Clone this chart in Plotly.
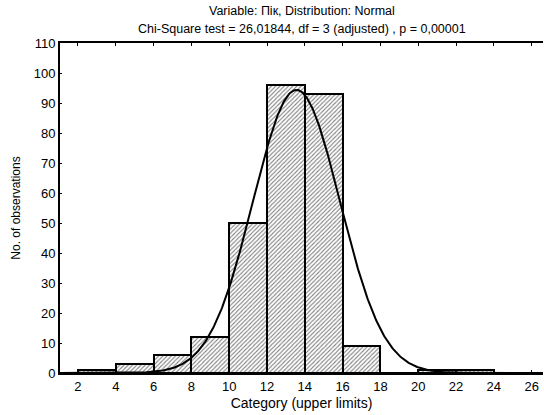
import numpy as np
import plotly.graph_objects as go

# Histogram data: bins (lower, upper) and counts
bin_lower = [2, 4, 6, 8, 10, 12, 14, 16, 18, 20, 22, 24]
bin_upper = [4, 6, 8, 10, 12, 14, 16, 18, 20, 22, 24, 26]
counts = [1, 3, 6, 12, 50, 96, 93, 9, 0, 1, 1, 0]

# Fitted normal distribution parameters
fit_mean = 13.56
fit_sd = 2.30
bin_width = 2
n_total = sum(counts)

x_ticks = [2, 4, 6, 8, 10, 12, 14, 16, 18, 20, 22, 24, 26]
y_ticks = [0, 10, 20, 30, 40, 50, 60, 70, 80, 90, 100, 110]

title_line1 = "Variable: Пік, Distribution: Normal"
title_line2 = "Chi-Square test = 26,01844, df = 3 (adjusted) , p = 0,00001"

centers = [(a + b) / 2 for a, b in zip(bin_lower, bin_upper)]
widths = [b - a for a, b in zip(bin_lower, bin_upper)]

xc = np.linspace(1.05, 26.6, 600)
yc = n_total * bin_width / (fit_sd * np.sqrt(2 * np.pi)) * np.exp(-0.5 * ((xc - fit_mean) / fit_sd) ** 2)

fig = go.Figure()
fig.add_trace(go.Bar(
    x=centers, y=counts, width=widths,
    marker=dict(
        color="white",
        line=dict(color="black", width=2),
        pattern=dict(shape="/", fgcolor="black", bgcolor="white", size=3, solidity=0.35),
    ),
    showlegend=False,
))
fig.add_trace(go.Scatter(
    x=xc, y=yc, mode="lines",
    line=dict(color="black", width=2),
    showlegend=False,
))

font_family = "Liberation Sans, Arial, sans-serif"
fig.update_layout(
    width=544, height=415,
    margin=dict(l=60, r=1, t=43, b=42, autoexpand=False),
    plot_bgcolor="white", paper_bgcolor="white",
    font=dict(family=font_family, size=13, color="black"),
    bargap=0,
    xaxis=dict(
        range=[1.05, 26.6],
        tickvals=x_ticks, ticktext=[str(v) for v in x_ticks],
        showline=True, linecolor="black", linewidth=2,
        mirror="allticks",
        ticks="inside", ticklen=3, tickcolor="black", tickwidth=1,
        showgrid=False, zeroline=False,
        title=dict(text="Category (upper limits)", font=dict(size=14), standoff=6),
        tickfont=dict(size=13),
        automargin=False,
    ),
    yaxis=dict(
        range=[0, 110],
        tickvals=y_ticks, ticktext=[str(v) for v in y_ticks],
        showline=True, linecolor="black", linewidth=2,
        ticks="inside", ticklen=2, tickcolor="black", tickwidth=1,
        showgrid=False, zeroline=False,
        title=dict(text="No. of observations", font=dict(size=12), standoff=10),
        tickfont=dict(size=13),
        automargin=False,
    ),
    annotations=[
        dict(text=title_line1, x=0.5, xref="paper", y=1.097, yref="paper",
             xanchor="center", yanchor="middle", showarrow=False,
             font=dict(size=12.5, family=font_family, color="black")),
        dict(text=title_line2, x=0.5, xref="paper", y=1.0424, yref="paper",
             xanchor="center", yanchor="middle", showarrow=False,
             font=dict(size=12.5, family=font_family, color="black")),
    ],
)

fig.write_html(
    "out.html",
    config={"displayModeBar": False},
    post_script="document.body.style.margin='0';document.body.style.overflow='hidden';",
)
